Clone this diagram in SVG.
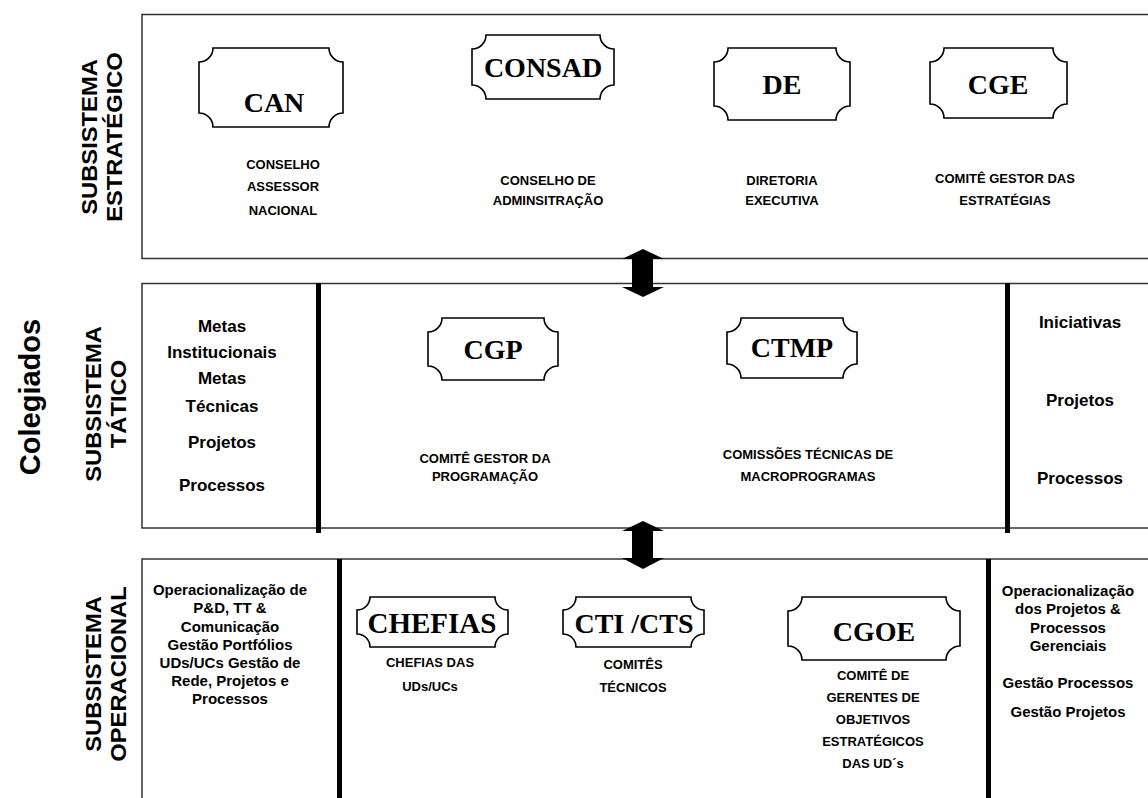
<svg xmlns="http://www.w3.org/2000/svg" width="1148" height="798" viewBox="0 0 1148 798">
<style>
.frame{fill:none;stroke:#333;stroke-width:1.5}
.bar{fill:#000}
.node{fill:#fff;stroke:#000;stroke-width:1.6}
.nl{font-family:"Liberation Serif","Times New Roman",serif;font-weight:bold;font-size:28px;text-anchor:middle;fill:#000}
.d{font-family:"Liberation Sans",Arial,sans-serif;font-weight:bold;font-size:13px;text-anchor:middle;fill:#000}
.m{font-family:"Liberation Sans",Arial,sans-serif;font-weight:bold;font-size:17px;text-anchor:middle;fill:#000}
.o{font-family:"Liberation Sans",Arial,sans-serif;font-weight:bold;font-size:15px;text-anchor:middle;fill:#000}
.sub{font-family:"Liberation Sans",Arial,sans-serif;font-weight:bold;font-size:22px;text-anchor:middle;fill:#000}
.col{font-family:"Liberation Sans",Arial,sans-serif;font-weight:bold;font-size:29px;text-anchor:middle;fill:#000}
</style>
<rect width="1148" height="798" fill="#fff"/>
<g id="frames">
<rect class="frame" x="142" y="14.5" width="1020" height="244"/>
<rect class="frame" x="142" y="283.5" width="1020" height="244.5"/>
<rect class="frame" x="142" y="559" width="1020" height="260"/>
<rect class="bar" x="316" y="283" width="5" height="250"/>
<rect class="bar" x="1005" y="283" width="5" height="250"/>
<rect class="bar" x="337" y="559" width="5" height="239"/>
<rect class="bar" x="986" y="559" width="5" height="239"/>
</g>
<g id="side-labels">
<text class="col" transform="translate(40,397) rotate(-90)">Colegiados</text>
<text class="sub" transform="translate(97,137) rotate(-90) scale(1.08,1)">SUBSISTEMA</text>
<text class="sub" transform="translate(122,137) rotate(-90) scale(1.08,1)">ESTRATÉGICO</text>
<text class="sub" transform="translate(101,404) rotate(-90) scale(1.08,1)">SUBSISTEMA</text>
<text class="sub" transform="translate(126,404) rotate(-90) scale(1.08,1)">TÁTICO</text>
<text class="sub" transform="translate(101,674) rotate(-90) scale(1.08,1)">SUBSISTEMA</text>
<text class="sub" transform="translate(126,674) rotate(-90) scale(1.08,1)">OPERACIONAL</text>
</g>
<g id="connectors">
<path class="bar" d="M643,249 L664,259 L653,259 L653,287 L664,287 L643,297 L622,287 L632,287 L632,259 L622,259 Z"/>
<path class="bar" d="M643,521 L664,531 L653,531 L653,558 L664,558 L643,569 L622,558 L632,558 L632,531 L622,531 Z"/>
</g>
<g id="CAN">
<path class="node" d="M213,48 H329 A14 14 0 0 0 343,62 V113 A14 14 0 0 0 329,127 H213 A14 14 0 0 0 199,113 V62 A14 14 0 0 0 213,48 Z"/>
<text class="nl" x="274" y="112">CAN</text>
<text class="d" x="283" y="169">CONSELHO</text>
<text class="d" x="283" y="191">ASSESSOR</text>
<text class="d" x="283" y="215">NACIONAL</text>
</g>
<g id="CONSAD">
<path class="node" d="M486,35 H600 A14 14 0 0 0 614,49 V85 A14 14 0 0 0 600,99 H486 A14 14 0 0 0 472,85 V49 A14 14 0 0 0 486,35 Z"/>
<text class="nl" x="543" y="77">CONSAD</text>
<text class="d" x="548" y="185">CONSELHO DE</text>
<text class="d" x="548" y="205">ADMINSITRAÇÃO</text>
</g>
<g id="DE">
<path class="node" d="M728,48 H836 A14 14 0 0 0 850,62 V106 A14 14 0 0 0 836,120 H728 A14 14 0 0 0 714,106 V62 A14 14 0 0 0 728,48 Z"/>
<text class="nl" x="782" y="94">DE</text>
<text class="d" x="782" y="185">DIRETORIA</text>
<text class="d" x="782" y="205">EXECUTIVA</text>
</g>
<g id="CGE">
<path class="node" d="M944,48 H1053 A14 14 0 0 0 1067,62 V104 A14 14 0 0 0 1053,118 H944 A14 14 0 0 0 930,104 V62 A14 14 0 0 0 944,48 Z"/>
<text class="nl" x="998" y="94">CGE</text>
<text class="d" x="1005" y="183">COMITÊ GESTOR DAS</text>
<text class="d" x="1005" y="205">ESTRATÉGIAS</text>
</g>
<g id="tatico-left">
<text class="m" x="222" y="332">Metas</text>
<text class="m" x="222" y="358">Institucionais</text>
<text class="m" x="222" y="384">Metas</text>
<text class="m" x="222" y="412">Técnicas</text>
<text class="m" x="222" y="448">Projetos</text>
<text class="m" x="222" y="491">Processos</text>
</g>
<g id="CGP">
<path class="node" d="M442,318 H544 A14 14 0 0 0 558,332 V366 A14 14 0 0 0 544,380 H442 A14 14 0 0 0 428,366 V332 A14 14 0 0 0 442,318 Z"/>
<text class="nl" x="493" y="359">CGP</text>
<text class="d" x="485" y="463">COMITÊ GESTOR DA</text>
<text class="d" x="485" y="481">PROGRAMAÇÃO</text>
</g>
<g id="CTMP">
<path class="node" d="M741,318 H843 A14 14 0 0 0 857,332 V364 A14 14 0 0 0 843,378 H741 A14 14 0 0 0 727,364 V332 A14 14 0 0 0 741,318 Z"/>
<text class="nl" x="792" y="357">CTMP</text>
<text class="d" x="808" y="459">COMISSÕES TÉCNICAS DE</text>
<text class="d" x="808" y="481">MACROPROGRAMAS</text>
</g>
<g id="tatico-right">
<text class="m" x="1080" y="328">Iniciativas</text>
<text class="m" x="1080" y="406">Projetos</text>
<text class="m" x="1080" y="484">Processos</text>
</g>
<g id="operacional-left">
<text class="o" x="230" y="595">Operacionalização de</text>
<text class="o" x="230" y="613">P&amp;D, TT &amp;</text>
<text class="o" x="230" y="632">Comunicação</text>
<text class="o" x="230" y="650">Gestão  Portfólios</text>
<text class="o" x="230" y="668">UDs/UCs Gestão de</text>
<text class="o" x="230" y="686">Rede, Projetos e</text>
<text class="o" x="230" y="704">Processos</text>
</g>
<g id="CHEFIAS">
<path class="node" d="M370,597 H495 A13 13 0 0 0 508,610 V634 A13 13 0 0 0 495,647 H370 A13 13 0 0 0 357,634 V610 A13 13 0 0 0 370,597 Z"/>
<text class="nl" x="432" y="633" style="font-size:29px">CHEFIAS</text>
<text class="d" x="430" y="667">CHEFIAS DAS</text>
<text class="d" x="430" y="691">UDs/UCs</text>
</g>
<g id="CTI-CTS">
<path class="node" d="M576,597 H691 A13 13 0 0 0 704,610 V634 A13 13 0 0 0 691,647 H576 A13 13 0 0 0 563,634 V610 A13 13 0 0 0 576,597 Z"/>
<text class="nl" x="634" y="633">CTI /CTS</text>
<text class="d" x="633" y="669">COMITÊS</text>
<text class="d" x="633" y="692">TÉCNICOS</text>
</g>
<g id="CGOE">
<path class="node" d="M802,597 H946 A14 14 0 0 0 960,611 V646 A14 14 0 0 0 946,660 H802 A14 14 0 0 0 788,646 V611 A14 14 0 0 0 802,597 Z"/>
<text class="nl" x="874" y="641">CGOE</text>
<text class="d" x="873" y="680">COMITÊ  DE</text>
<text class="d" x="873" y="702">GERENTES DE</text>
<text class="d" x="873" y="724">OBJETIVOS</text>
<text class="d" x="873" y="746">ESTRATÉGICOS</text>
<text class="d" x="873" y="768">DAS UD´s</text>
</g>
<g id="operacional-right">
<text class="o" x="1068" y="596">Operacionalização</text>
<text class="o" x="1068" y="614">dos Projetos &amp;</text>
<text class="o" x="1068" y="633">Processos</text>
<text class="o" x="1068" y="651">Gerenciais</text>
<text class="o" x="1068" y="688">Gestão Processos</text>
<text class="o" x="1068" y="717">Gestão Projetos</text>
</g>
</svg>
